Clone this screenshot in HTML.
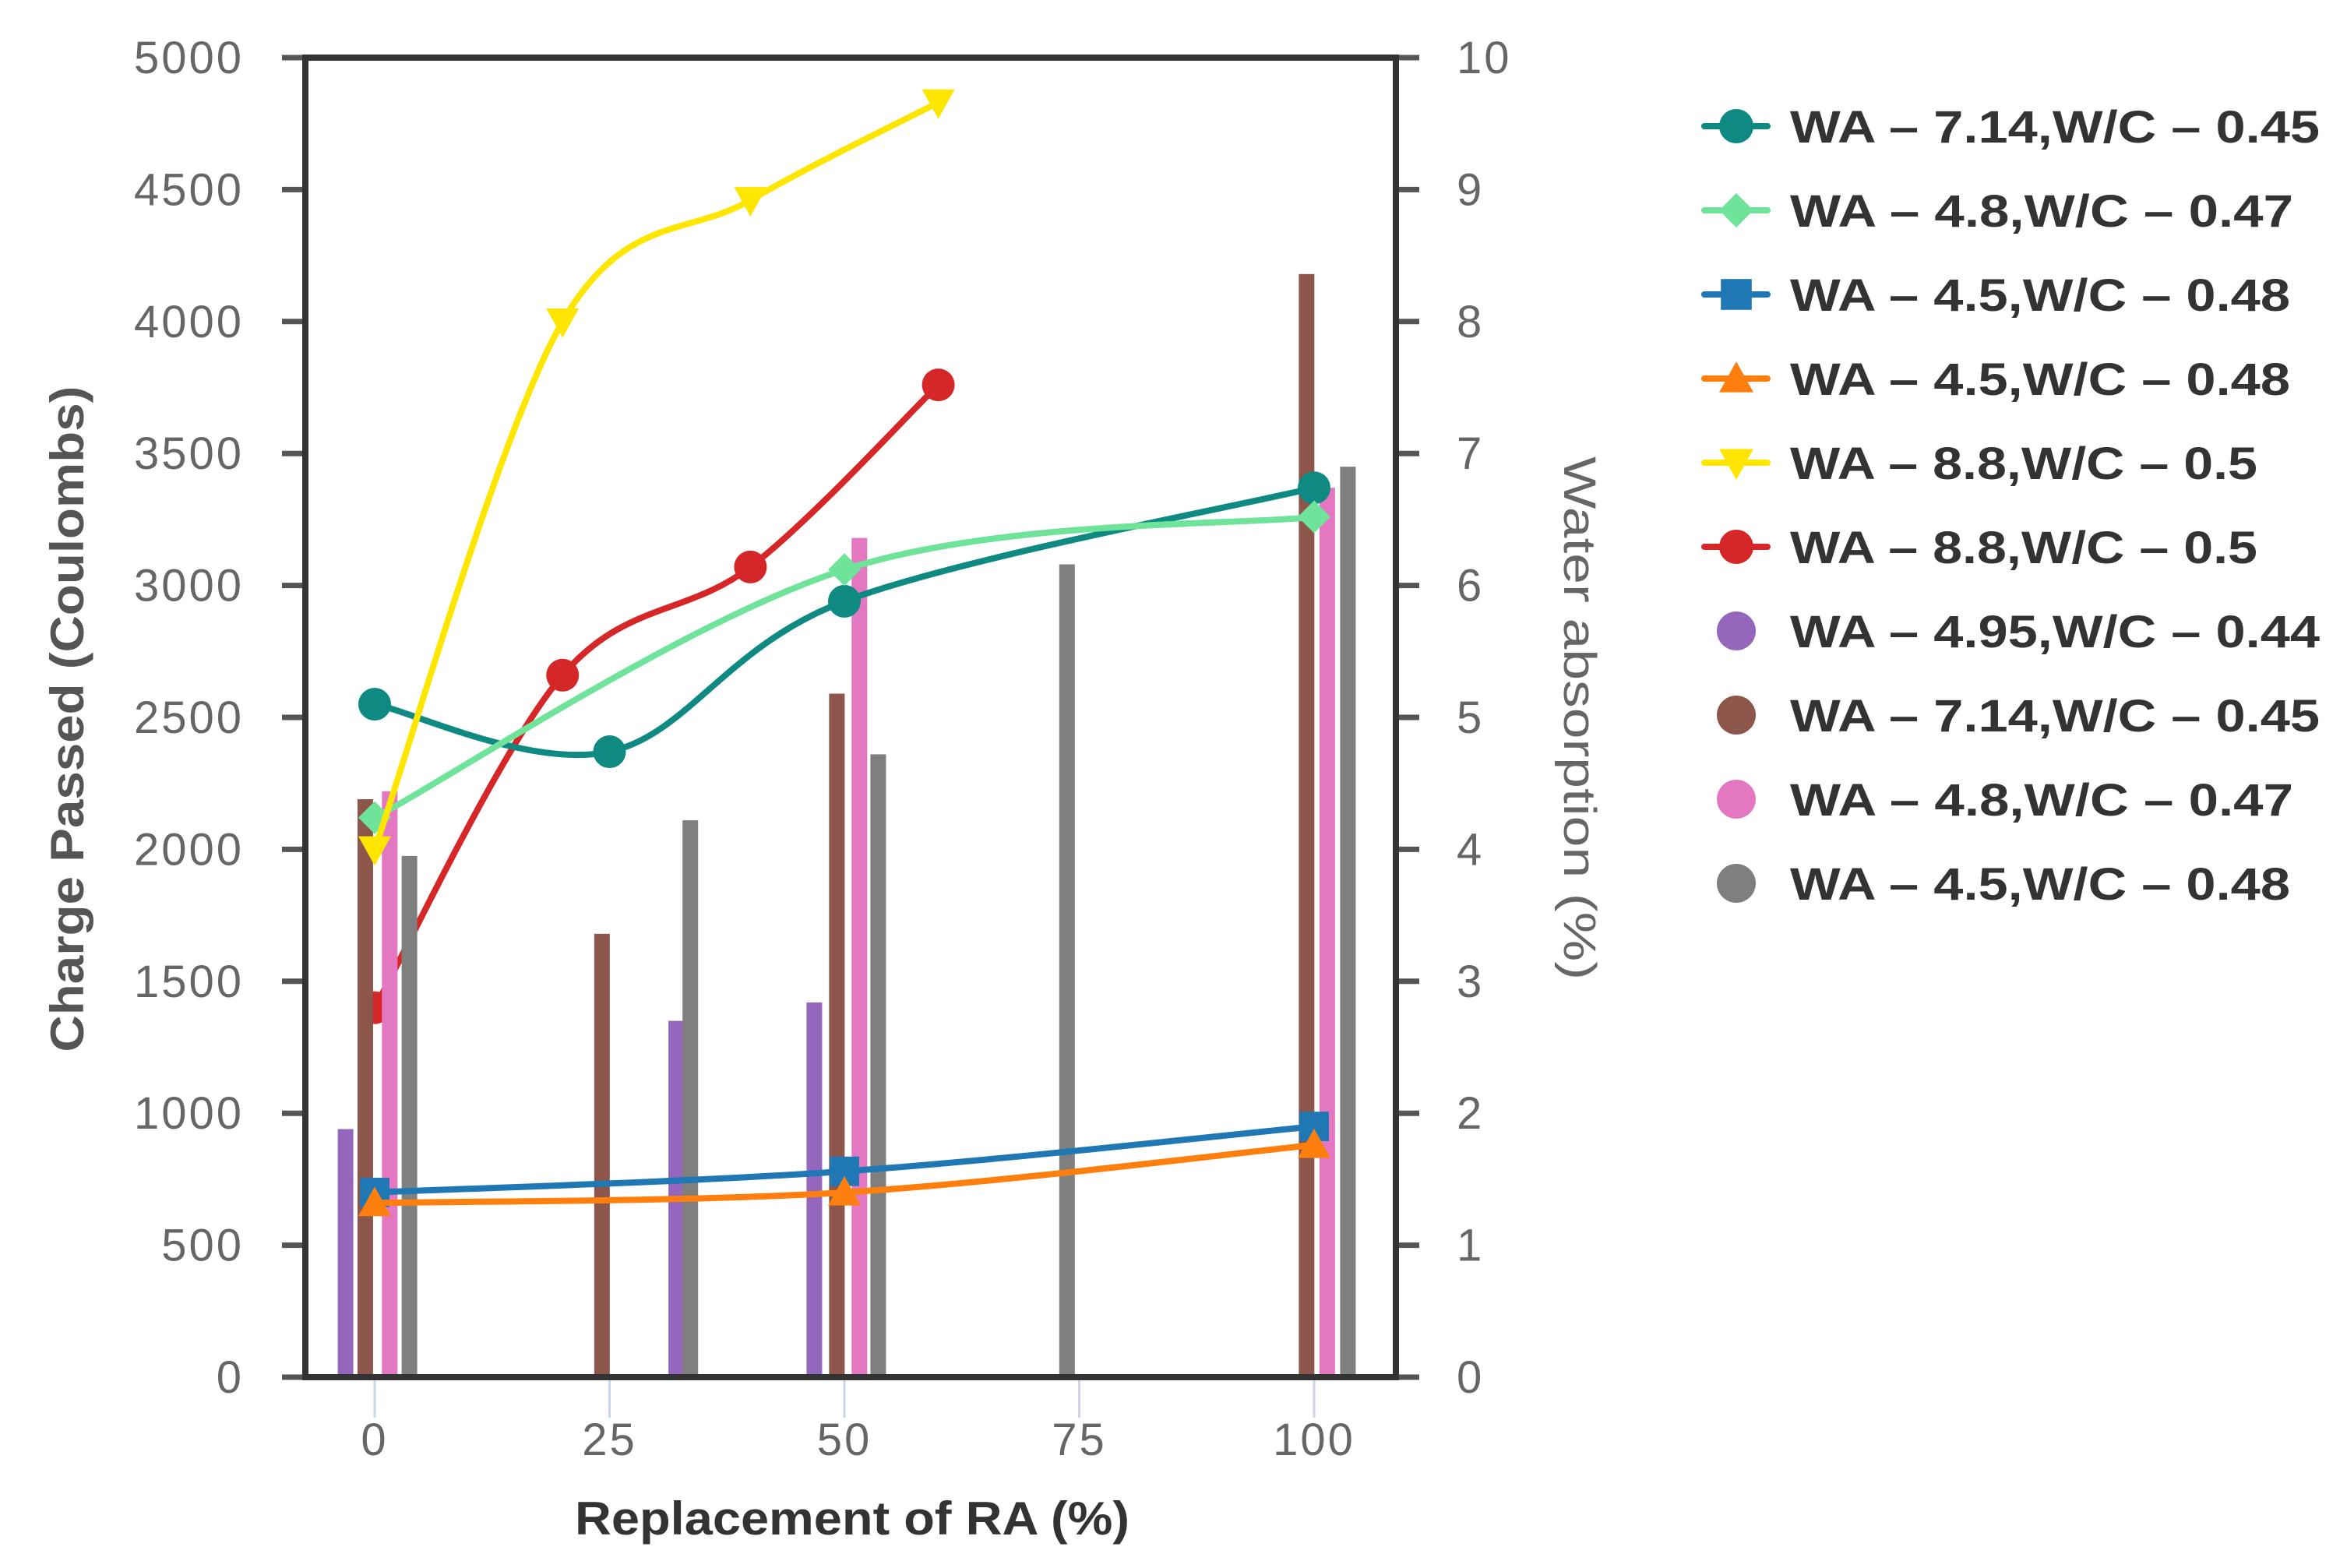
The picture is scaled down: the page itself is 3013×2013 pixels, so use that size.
<!DOCTYPE html>
<html><head><meta charset="utf-8"><style>
html,body{margin:0;padding:0;background:#fff;}
svg{display:block;font-family:"Liberation Sans",sans-serif;}
</style></head><body>
<svg id="chart" width="3013" height="2013" viewBox="0 0 3013 2013" xmlns="http://www.w3.org/2000/svg">
<g id="bars"></g>
<g id="lines"></g>
<g id="axes"></g>
<g id="legend"></g>
</svg>
<script>
// ---- data ----
const xTicks = [0, 25, 50, 75, 100];
const yTicks = [0, 500, 1000, 1500, 2000, 2500, 3000, 3500, 4000, 4500, 5000];
const y2Ticks = [0, 1, 2, 3, 4, 5, 6, 7, 8, 9, 10];
const tealX = [0, 25, 50, 100];
const tealY = [2550, 2370, 2940, 3370];
const greenX = [0, 50, 100];
const greenY = [2120, 3060, 3260];
const blueX = [0, 50, 100];
const blueY = [700, 780, 950];
const orangeX = [0, 50, 100];
const orangeY = [660, 700, 880];
const yellowX = [0, 20, 40, 60];
const yellowY = [2000, 4000, 4460, 4830];
const redX = [0, 20, 40, 60];
const redY = [1400, 2660, 3070, 3760];
const purpleX = [-3.1, 32.1, 46.8];
const purpleV = [1.88, 2.7, 2.84];
const brownX = [-1.0, 24.2, 49.2, 99.2];
const brownV = [4.38, 3.36, 5.18, 8.36];
const pinkX = [1.6, 51.6, 101.4];
const pinkV = [4.44, 6.36, 6.74];
const grayX = [3.7, 33.6, 53.6, 73.7, 103.6];
const grayV = [3.95, 4.22, 4.72, 6.16, 6.9];
const legendLabels = ["WA – 7.14,W/C – 0.45","WA – 4.8,W/C – 0.47","WA – 4.5,W/C – 0.48","WA – 4.5,W/C – 0.48","WA – 8.8,W/C – 0.5","WA – 8.8,W/C – 0.5","WA – 4.95,W/C – 0.44","WA – 7.14,W/C – 0.45","WA – 4.8,W/C – 0.47","WA – 4.5,W/C – 0.48"];

const NS = "http://www.w3.org/2000/svg";
const L = 392, R = 1792, T = 74, B = 1768;
const X0 = 481, X100 = 1687;
function xs(v){ return X0 + (X100 - X0) * v / 100; }
function ys(v){ return B - (B - T) * v / 5000; }
function y2s(v){ return B - (B - T) * v / 10; }
function mk(tag, attrs, parent){ const e = document.createElementNS(NS, tag); for (const k in attrs) e.setAttribute(k, attrs[k]); parent.appendChild(e); return e; }

const gB = document.getElementById('bars'), gL = document.getElementById('lines'), gA = document.getElementById('axes'), gG = document.getElementById('legend');

xTicks.forEach(t => {
  const l = mk('line', {x1: xs(t), x2: xs(t), y1: B, y2: B + 52, stroke: '#ccd6eb', 'stroke-width': 3}, gA);
  
  
  const tx = mk('text', {x: xs(t), y: 1868, 'text-anchor': 'middle', 'font-size': 58, 'letter-spacing': 3, fill: '#666'}, gA);
  tx.textContent = t;
  
  
});
yTicks.forEach(t => {
  const l = mk('line', {x1: 362, x2: L, y1: ys(t), y2: ys(t), stroke: '#555', 'stroke-width': 7}, gA);
  
  
  const tx = mk('text', {x: 313, y: ys(t) + 20, 'text-anchor': 'end', 'font-size': 58, 'letter-spacing': 3, fill: '#666'}, gA);
  tx.textContent = t;
  
  
});
y2Ticks.forEach(t => {
  const l = mk('line', {x1: R, x2: 1822, y1: y2s(t), y2: y2s(t), stroke: '#555', 'stroke-width': 7}, gA);
  
  
  const tx = mk('text', {x: 1870, y: y2s(t) + 20, 'text-anchor': 'start', 'font-size': 58, 'letter-spacing': 3, fill: '#666'}, gA);
  tx.textContent = t;
  
  
});
const frame = mk('rect', {x: L, y: T, width: R - L, height: B - T, fill: 'none', stroke: '#333', 'stroke-width': 8}, gA);


const xt = mk('text', {x: 1094, y: 1970, 'text-anchor': 'middle', 'font-size': 60, 'font-weight': 'bold', fill: '#333', textLength: 712, lengthAdjust: 'spacingAndGlyphs'}, gA);
xt.textContent = 'Replacement of RA (%)';


const yt = mk('text', {x: 0, y: 0, 'text-anchor': 'middle', 'font-size': 60, 'font-weight': 'bold', fill: '#555', transform: 'translate(107,923) rotate(-90)', textLength: 855, lengthAdjust: 'spacingAndGlyphs'}, gA);
yt.textContent = 'Charge Passed (Coulombs)';


const y2t = mk('text', {x: 0, y: 0, 'text-anchor': 'middle', 'font-size': 58, fill: '#666', transform: 'translate(2008,922) rotate(90)', textLength: 672, lengthAdjust: 'spacingAndGlyphs'}, gA);
y2t.textContent = 'Water absorption (%)';



function drawBars(xa, va, color, name){
  xa.forEach((x, i) => {
    const h = B - y2s(va[i]);
    const r = mk('rect', {x: xs(x) - 10, y: y2s(va[i]), width: 20, height: h, fill: color}, gB);
    
    
  });
}
drawBars(purpleX, purpleV, '#9467bd', 'bar-purple');
drawBars(brownX, brownV, '#8c564b', 'bar-brown');
drawBars(pinkX, pinkV, '#e377c2', 'bar-pink');
drawBars(grayX, grayV, '#7f7f7f', 'bar-gray');

function pathFor(xa, ya){
  const p = xa.map((x, i) => [xs(x), ys(ya[i])]);
  let d = 'M' + p[0][0] + ',' + p[0][1];
  for (let i = 0; i < p.length - 1; i++){
    const p0 = p[i - 1] || p[i], p1 = p[i], p2 = p[i + 1], p3 = p[i + 2] || p2;
    const t = 1 / 3;
    const c1 = [p1[0] + (p2[0] - p0[0]) * t / 2, p1[1] + (p2[1] - p0[1]) * t / 2];
    const c2 = [p2[0] - (p3[0] - p1[0]) * t / 2, p2[1] - (p3[1] - p1[1]) * t / 2];
    d += ' C' + c1[0] + ',' + c1[1] + ' ' + c2[0] + ',' + c2[1] + ' ' + p2[0] + ',' + p2[1];
  }
  return d;
}
function marker(shape, cx, cy, color, parent, s){
  s = s || 21;
  if (shape === 'circle') return mk('circle', {cx, cy, r: s, fill: color}, parent);
  if (shape === 'diamond') return mk('path', {d: `M${cx},${cy-s} L${cx+s},${cy} L${cx},${cy+s} L${cx-s},${cy} Z`, fill: color}, parent);
  if (shape === 'square') return mk('rect', {x: cx - s*0.9, y: cy - s*0.9, width: s*1.8, height: s*1.8, fill: color}, parent);
  if (shape === 'tri') return mk('path', {d: `M${cx},${cy-s} L${cx+s},${cy+s*0.8} L${cx-s},${cy+s*0.8} Z`, fill: color}, parent);
  if (shape === 'tridown') return mk('path', {d: `M${cx},${cy+s} L${cx+s},${cy-s*0.8} L${cx-s},${cy-s*0.8} Z`, fill: color}, parent);
}
function drawLine(xa, ya, color, shape, name){
  const pth = mk('path', {d: pathFor(xa, ya), fill: 'none', stroke: color, 'stroke-width': 8, 'stroke-linejoin': 'round'}, gL);
  
  
  xa.forEach((x, i) => {
    const m = marker(shape, xs(x), ys(ya[i]), color, gL);
    
    
  });
}
const gRed = mk('g', {}, document.getElementById('chart'));
document.getElementById('chart').insertBefore(gRed, gB);
const redPath = mk('path', {d: pathFor(redX, redY), fill: 'none', stroke: '#d62728', 'stroke-width': 8}, gRed);


redX.forEach((x, i) => {
  const m = marker('circle', xs(x), ys(redY[i]), '#d62728', i === 0 ? gRed : gL);
  
  
});
drawLine(tealX, tealY, '#0e8a82', 'circle', 'teal-series');
drawLine(greenX, greenY, '#6fe39a', 'diamond', 'green-series');
drawLine(blueX, blueY, '#1f77b4', 'square', 'blue-series');
drawLine(orangeX, orangeY, '#ff7f0e', 'tri', 'orange-series');
drawLine(yellowX, yellowY, '#ffe600', 'tridown', 'yellow-series');

const legColors = ['#0e8a82','#6fe39a','#1f77b4','#ff7f0e','#ffe600','#d62728','#9467bd','#8c564b','#e377c2','#7f7f7f'];
const legShapes = ['circle','diamond','square','tri','tridown','circle','dot','dot','dot','dot'];
const legLens = [680,646,642,642,600,600,680,680,646,642];
legendLabels.forEach((lab, i) => {
  const cy = 162 + 108 * i;
  const g = mk('g', {}, gG);
  
  
  if (legShapes[i] === 'dot'){
    mk('circle', {cx: 2229, cy, r: 25, fill: legColors[i]}, g);
  } else {
    mk('line', {x1: 2188, x2: 2269, y1: cy, y2: cy, stroke: legColors[i], 'stroke-width': 8, 'stroke-linecap': 'round'}, g);
    marker(legShapes[i], 2229, cy, legColors[i], g, 22);
  }
  const t = mk('text', {x: 2298, y: cy + 21, 'font-size': 58, 'font-weight': 'bold', fill: '#333', textLength: legLens[i], lengthAdjust: 'spacingAndGlyphs'}, g);
  t.textContent = lab;
});
</script>
</body></html>
